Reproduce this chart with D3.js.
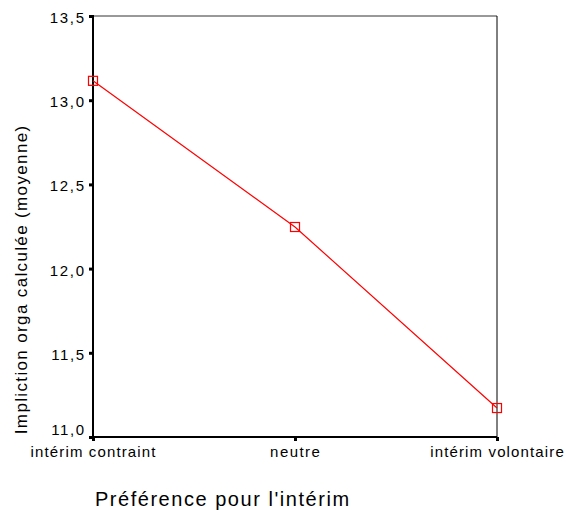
<!DOCTYPE html>
<html><head><meta charset="utf-8">
<script src="https://cdn.jsdelivr.net/npm/d3@7"></script>
<style>body{margin:0;background:#fff}</style>
</head><body>
<script>
const categories = ["intérim contraint", "neutre", "intérim volontaire"];
const values = [13.115, 12.247, 11.172];
const yTicks = [11.0, 11.5, 12.0, 12.5, 13.0, 13.5];
const xTitle = "Préférence pour l'intérim";
const yTitle = "Impliction orga calculée (moyenne)";

const W = 566, H = 510;
const L = 93, R = 497, T = 16, B = 437;
const FONT = "Liberation Sans, Arial, Helvetica, sans-serif";
const STRETCH = 1.17;
const svg = d3.select("body").append("svg").attr("width", W).attr("height", H);

function widen(sel) {
  sel.each(function() {
    const n = this.getComputedTextLength();
    d3.select(this).attr("textLength", n * STRETCH).attr("lengthAdjust", "spacing");
  });
}

const x = d3.scalePoint().domain(categories).range([L, R]);
const y = d3.scaleLinear().domain([11.0, 13.5]).range([B, T]);

// frame
svg.append("line").attr("x1", L).attr("x2", R).attr("y1", T).attr("y2", T).attr("stroke", "#333").attr("stroke-width", 1);
svg.append("line").attr("x1", R).attr("x2", R).attr("y1", T).attr("y2", B).attr("stroke", "#000").attr("stroke-width", 1);
svg.append("line").attr("x1", L).attr("x2", L).attr("y1", T - 1).attr("y2", B + 1).attr("stroke", "#000").attr("stroke-width", 2);
svg.append("line").attr("x1", L - 1).attr("x2", R).attr("y1", B).attr("y2", B).attr("stroke", "#000").attr("stroke-width", 2);

const fmt = d => d.toFixed(1).replace(".", ",");
const yAxis = svg.append("g").attr("transform", `translate(${L},0)`)
  .call(d3.axisLeft(y).tickValues(yTicks).tickFormat("").tickSize(4));
yAxis.select(".domain").remove();
yAxis.selectAll(".tick line").attr("stroke", "#000").attr("stroke-width", 3);

const xAxis = svg.append("g").attr("transform", `translate(0,${B})`)
  .call(d3.axisBottom(x).tickFormat("").tickSize(4));
xAxis.select(".domain").remove();
xAxis.selectAll(".tick line").attr("stroke", "#000").attr("stroke-width", 3);

// y tick labels
svg.append("g").selectAll("text").data(yTicks).enter().append("text")
  .attr("x", L - 9)
  .attr("y", d => y(d) + (d === yTicks[0] ? -2 : 7))
  .attr("text-anchor", "end")
  .attr("font-family", FONT).attr("font-size", 15).attr("fill", "#000")
  .text(fmt).call(widen);

// category labels
svg.append("g").selectAll("text").data(categories).enter().append("text")
  .attr("x", d => x(d)).attr("y", B + 20)
  .attr("text-anchor", "middle")
  .attr("font-family", FONT).attr("font-size", 15).attr("fill", "#000")
  .text(d => d).call(widen);

const data = categories.map((c, i) => ({c, v: values[i]}));
svg.append("path").datum(data)
  .attr("d", d3.line().x(d => x(d.c)).y(d => y(d.v)))
  .attr("fill", "none").attr("stroke", "#f00").attr("stroke-width", 1.2);
svg.selectAll("rect.m").data(data).enter().append("rect").attr("class", "m")
  .attr("x", d => x(d.c) - 4.5).attr("y", d => y(d.v) - 4.5)
  .attr("width", 9).attr("height", 9)
  .attr("fill", "none").attr("stroke", "#f00").attr("stroke-width", 1.2);

svg.append("text").attr("x", 222).attr("y", 506).attr("text-anchor", "middle")
  .attr("font-family", FONT).attr("font-size", 20).attr("fill", "#000").text(xTitle).call(widen);
svg.append("text").attr("transform", "translate(27,280) rotate(-90)").attr("text-anchor", "middle")
  .attr("font-family", FONT).attr("font-size", 17).attr("fill", "#000").text(yTitle).call(widen);
</script>
</body></html>
